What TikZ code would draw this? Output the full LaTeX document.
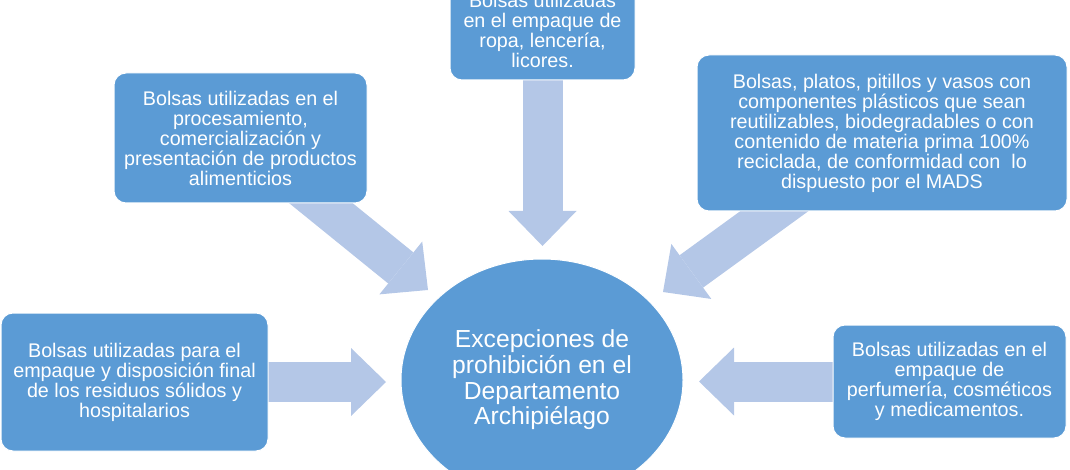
\documentclass[tikz,border=0pt]{standalone}
\usepackage{fontspec}
\setmainfont{Liberation Sans}
\usetikzlibrary{shapes.geometric,arrows.meta,backgrounds}
\definecolor{boxblue}{HTML}{5B9BD5}
\definecolor{arrowblue}{HTML}{B4C7E7}

\begin{document}
\begin{tikzpicture}[x=0.75pt, y=-0.75pt,
		itembox/.style={draw=white, line width=0.75pt, fill=boxblue, rounded corners=9pt, text=white, align=center, inner sep=0pt, font=\fontsize{14.8}{15}\selectfont},
		centre/.style={ellipse, draw=white, line width=0.75pt, fill=boxblue, text=white, align=center, inner sep=0pt, font=\fontsize{18.5}{19.3}\selectfont},
		bigarrow/.style={draw=arrowblue, line width=30pt, -{Triangle[width=51pt, length=26.25pt, line width=0pt]}}]
		
		\useasboundingbox (0,0) rectangle (1070,470);
		
		% boxes around the centre
		\node[itembox, minimum width=138.75pt, minimum height=75pt] (ropa) at (542.5,30) {Bolsas utilizadas\\en el empaque de\\ropa, lencería,\\licores.};
		\node[itembox, minimum width=189.75pt, minimum height=97.5pt] (alimentos) at (240.5,138) {Bolsas utilizadas en el\\procesamiento,\\comercialización y\\presentación de productos\\alimenticios};
		\node[itembox, minimum width=277.5pt, minimum height=117pt] (reciclada) at (882,133) {Bolsas, platos, pitillos y vasos con\\componentes plásticos que sean\\reutilizables, biodegradables o con\\contenido de materia prima 100\%\\reciclada, de conformidad con~ lo\\dispuesto por el MADS};
		\node[itembox, minimum width=200.25pt, minimum height=103.5pt] (residuos) at (134.5,382) {Bolsas utilizadas para el\\empaque y disposición final\\de los residuos sólidos y\\hospitalarios};
		\node[itembox, minimum width=174.75pt, minimum height=84.75pt] (perfumeria) at (949.5,381.5) {Bolsas utilizadas en el\\empaque de\\perfumería, cosméticos\\y medicamentos.};
		
		\node[centre, minimum width=211.5pt, minimum height=181.5pt] (excepciones) at (542,380) {Excepciones de\\prohibición en el\\Departamento\\Archipiélago};
		
		% arrow tips
		\coordinate (tipRopa) at (542.5,246);
		\coordinate (tipAlimentos) at (428,290);
		\coordinate (tipReciclada) at (663,292);
		\coordinate (tipResiduos) at (386,382);
		\coordinate (tipPerfumeria) at (699,381.5);
		
		\begin{scope}[on background layer]
			\draw[bigarrow] (ropa.center) -- (tipRopa);
			\draw[bigarrow] (alimentos.center) -- (tipAlimentos);
			\draw[bigarrow] (reciclada.center) -- (tipReciclada);
			\draw[bigarrow] (residuos.center) -- (tipResiduos);
			\draw[bigarrow] (perfumeria.center) -- (tipPerfumeria);
		\end{scope}
		
	\end{tikzpicture}
\end{document}
